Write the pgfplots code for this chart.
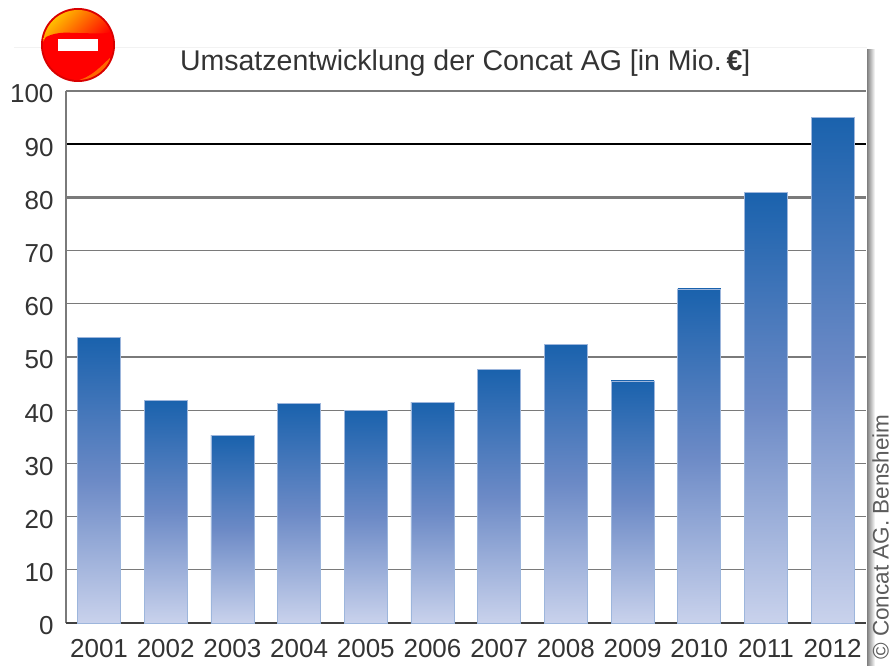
\documentclass[border=0pt]{standalone}
\usepackage{pgfplots}
\pgfplotsset{compat=1.18}
\usepackage{fontspec}
\setmainfont{Liberation Sans}
\definecolor{txt}{HTML}{333333}
\definecolor{gridg}{HTML}{7A7A7A}
\definecolor{bartop}{HTML}{1A62AD}
\definecolor{barmid}{HTML}{6C8AC6}
\definecolor{barbot}{HTML}{C9D2EC}
\definecolor{baredge}{HTML}{9DB6DC}
\begin{document}
\begin{tikzpicture}[x=1pt,y=1pt]
\useasboundingbox (0,0) rectangle (893,665);
\shade[left color=black!50,right color=white] (867,0) rectangle (875,615);
\draw[black!5,line width=0.6pt] (14,618) -- (867,618);
\begin{axis}[
  at={(66pt,42pt)},anchor=south west,
  width=800pt,height=532pt,scale only axis,
  xmin=-0.495,xmax=11.5,ymin=0,ymax=100,
  xtick={0,...,11},
  xticklabels={2001,2002,2003,2004,2005,2006,2007,2008,2009,2010,2011,2012},
  ytick={0,10,...,100},
  axis line style={draw=none},
  major tick length=0pt,
  ymajorgrids,
  grid style={gridg,line width=1.3pt},
  /pgf/number format/assume math mode=true,
  /pgf/number format/1000 sep={},
  tick label style={font=\fontsize{26}{26}\selectfont,text=txt},
  xticklabel style={yshift=-13pt},
  yticklabel style={xshift=-9pt,yshift=-3pt},
  title={Umsatzentwicklung der Concat AG [in Mio.\,{\bfseries €}]},
  title style={font=\fontsize{28.5}{28.5}\selectfont,text=txt,at={(axis description cs:0.499,1)},anchor=base,yshift=14pt},
  clip=false,
  barstyle/.style={forget plot,ybar,bar width=43pt,bar shift=0pt,draw=baredge,line width=0.8pt,top color=bartop,bottom color=barbot,middle color=barmid},
]
\addplot[forget plot,gridg,line width=2.4pt] coordinates {(-0.495,100)(11.5,100)};
\addplot[forget plot,gridg,line width=2.4pt] coordinates {(-0.495,80)(11.5,80)};
\addplot[forget plot,black,line width=1.4pt] coordinates {(-0.495,90)(11.5,90)};
\addplot[forget plot,gridg,line width=2pt] coordinates {(-0.495,0)(-0.495,100)};
\addplot[forget plot,black!75,line width=1.5pt] coordinates {(-0.495,0)(11.5,0)};
\addplot[barstyle] coordinates {(0,53.6)};
\addplot[barstyle] coordinates {(1,41.9)};
\addplot[barstyle] coordinates {(2,35.2)};
\addplot[barstyle] coordinates {(3,41.2)};
\addplot[barstyle] coordinates {(4,40)};
\addplot[barstyle] coordinates {(5,41.5)};
\addplot[barstyle] coordinates {(6,47.6)};
\addplot[barstyle] coordinates {(7,52.3)};
\addplot[barstyle] coordinates {(8,45.5)};
\addplot[barstyle] coordinates {(9,62.8)};
\addplot[barstyle] coordinates {(10,81)};
\addplot[barstyle] coordinates {(11,95.1)};
\end{axis}
% icon
\fill[red!85!black] (78,620) circle (37);
\fill[red] (78,620) circle (35);
\begin{scope}
\clip (78,620) circle (35);
\shade[shading=axis,left color=orange!40!yellow,right color=red,shading angle=45] (43,620) rectangle (113,656);
\fill[red] (40,618) -- (46,628) .. controls (58,634) and (70,632) .. (78,632) .. controls (92,632) and (104,630) .. (116,634) -- (116,610) -- (42,610) -- cycle;
\fill[orange!80!red] (76,584) .. controls (92,588) and (100,598) .. (110,607) .. controls (110,590) and (92,582) .. (76,584) -- cycle;
\end{scope}
\fill[white] (57.5,614) rectangle (98,626);
\node[rotate=90,anchor=base west,font=\fontsize{22.5}{22.5}\selectfont,text=txt!80!white,inner sep=0pt] at (888.5,5) {© Concat AG. Bensheim};
\end{tikzpicture}
\end{document}
